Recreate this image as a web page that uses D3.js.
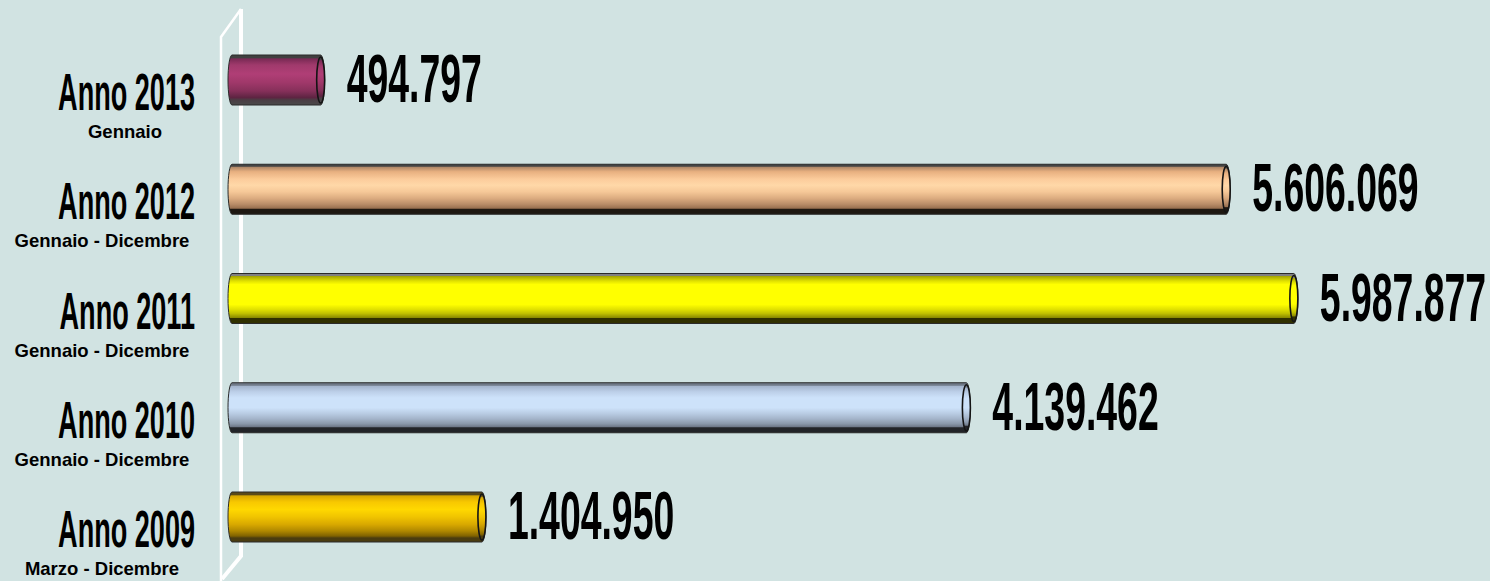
<!DOCTYPE html>
<html>
<head>
<meta charset="utf-8">
<script src="https://cdn.jsdelivr.net/npm/d3@7"></script>
<style>
  html, body { margin: 0; padding: 0; background: #d1e3e2; }
  svg { display: block; }
</style>
</head>
<body>
<svg id="chart" width="1490" height="581"></svg>
<script>
// ---- data ----
const categories = ["Anno 2013", "Anno 2012", "Anno 2011", "Anno 2010", "Anno 2009"];
const periods = ["Gennaio", "Gennaio - Dicembre", "Gennaio - Dicembre", "Gennaio - Dicembre", "Marzo - Dicembre"];
const values = [494797, 5606069, 5987877, 4139462, 1404950];

// ---- styles ----
const gradients = [
  [[0,"#404040"],[0.05,"#404040"],[0.08,"#7a2a55"],[0.2,"#a03a6c"],[0.38,"#b03e76"],[0.55,"#a0386a"],[0.72,"#86305a"],[0.85,"#5e2442"],[0.9,"#4a3e44"],[1,"#4a4a4a"]],
  [[0,"#444444"],[0.04,"#444444"],[0.06,"#b08868"],[0.15,"#e8b080"],[0.3,"#fccc9c"],[0.42,"#ffd8a8"],[0.55,"#f6c898"],[0.68,"#dcac80"],[0.8,"#b88c68"],[0.88,"#987050"],[0.9,"#1e1812"],[1,"#1e1812"]],
  [[0,"#808080"],[0.05,"#808080"],[0.06,"#a8a800"],[0.15,"#e0e000"],[0.22,"#ffff00"],[0.62,"#ffff00"],[0.72,"#e0e000"],[0.8,"#c0c000"],[0.88,"#8c8c00"],[0.9,"#303000"],[1,"#303000"]],
  [[0,"#707a88"],[0.05,"#707a88"],[0.07,"#a4b4cc"],[0.18,"#bccfe8"],[0.3,"#cde2fa"],[0.5,"#cde2fa"],[0.62,"#b8cbe2"],[0.72,"#a4b4ca"],[0.82,"#8a98aa"],[0.88,"#6e7888"],[0.9,"#222428"],[1,"#222428"]],
  [[0,"#5a4a18"],[0.05,"#5a4a18"],[0.08,"#d8a800"],[0.2,"#f8c800"],[0.35,"#ffd800"],[0.5,"#f0c400"],[0.65,"#d8a800"],[0.78,"#b08800"],[0.88,"#806200"],[0.92,"#4a3c10"],[1,"#4a3c10"]]
];

const svg = d3.select("#chart");
const W = 1490, H = 581;
svg.append("rect").attr("width", W).attr("height", H).attr("fill", "#d1e3e2");

const fmt = d3.formatLocale({decimal: ",", thousands: ".", grouping: [3], currency: ["€", ""]}).format(",d");

const x = d3.scaleLinear().domain([0, 6000000]).range([237, 1300]);
const y = d3.scalePoint().domain(categories).range([80, 517]);
const barH = 50, rx = 4, capL = 9;

// gradients
const defs = svg.append("defs");
gradients.forEach((stops, i) => {
  const g = defs.append("linearGradient").attr("id", "g" + i)
    .attr("x1", 0).attr("y1", 0).attr("x2", 0).attr("y2", 1);
  stops.forEach(s => g.append("stop").attr("offset", s[0]).attr("stop-color", s[1]));
});

// 3D wall edge lines (white)
const wall = svg.append("g").attr("fill", "none").attr("stroke", "#ffffff");
const xl = x(0) - 16, xr = x(0) + 4;
wall.append("path").attr("stroke-width", 2.5)
  .attr("d", `M${xl},${H + 2} L${xl},37 L${xr},9`);
wall.append("path").attr("stroke-width", 4)
  .attr("d", `M${xr},9 L${xr},556 L${xl + 1},579`);

// bars
const bars = svg.append("g").selectAll("g").data(categories).join("g")
  .attr("transform", d => `translate(0,${y(d)})`);

bars.each(function(d, i) {
  const g = d3.select(this);
  const x0 = x(0) - capL, x1 = x(values[i]), r = barH / 2;
  g.append("path")
    .attr("d", `M${x0 + rx},${-r} H${x1 - rx} A${rx},${r} 0 0 1 ${x1 - rx},${r} H${x0 + rx} A${rx},${r} 0 0 1 ${x0 + rx},${-r} Z`)
    .attr("fill", `url(#g${i})`)
    .attr("stroke", "#2a2a2a").attr("stroke-width", 1);
  g.append("ellipse")
    .attr("cx", x1 - rx).attr("cy", 0).attr("rx", rx).attr("ry", r - 2)
    .attr("fill", `url(#g${i})`)
    .attr("stroke", "#141414").attr("stroke-width", 1.6);
});

// value labels (condensed bold)
const bigFont = "'Liberation Sans Narrow','Arial Narrow','Liberation Sans',Arial,sans-serif";
const probe = svg.append("text").attr("font-family", bigFont).attr("font-weight", "bold")
  .attr("font-size", 68).text("0");
const kVal = 20.8 / probe.node().getComputedTextLength();
probe.attr("font-size", 52).text("Anno 2013");
const kCat = 137 / probe.node().getComputedTextLength();
probe.remove();

bars.append("text")
  .attr("font-family", bigFont).attr("font-weight", "bold").attr("font-size", 68)
  .attr("fill", "#000")
  .attr("transform", (d, i) => `translate(${x(values[i]) + 22},${22}) scale(${kVal},1)`)
  .text((d, i) => fmt(values[i]));

// category labels
bars.append("text")
  .attr("font-family", bigFont).attr("font-weight", "bold").attr("font-size", 52)
  .attr("text-anchor", "end").attr("fill", "#000")
  .attr("transform", `translate(195,30) scale(${kCat},1)`)
  .text(d => d);

bars.append("text")
  .attr("font-family", "'Liberation Sans',Arial,sans-serif").attr("font-weight", "bold")
  .attr("font-size", 18.5).attr("text-anchor", "middle").attr("fill", "#000")
  .attr("x", (d, i) => periods[i].length < 10 ? 125 : 102).attr("y", 58)
  .text((d, i) => periods[i]);
</script>
</body>
</html>
